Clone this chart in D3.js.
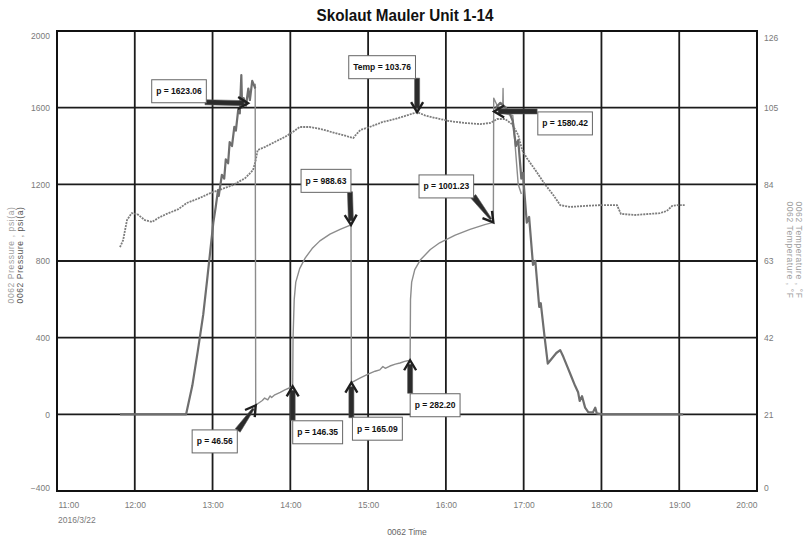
<!DOCTYPE html>
<html>
<head>
<meta charset="utf-8">
<script src="https://cdn.jsdelivr.net/npm/d3@7/dist/d3.min.js"></script>
<style>
  body { margin: 0; background: #fff; }
  svg { display: block; }
  text { font-family: "Liberation Sans", Arial, sans-serif; }
</style>
</head>
<body>
<svg id="chart" width="809" height="541"></svg>
<script>
// ---- data (time in decimal hours on 2016/3/22) ----
const hourTicks = [11, 12, 13, 14, 15, 16, 17, 18, 19, 20];
const pressureTicks = [-400, 0, 400, 800, 1200, 1600, 2000];
const tempTicks = [0, 21, 42, 63, 84, 105, 126];

// dark pressure trace
const pressureMain = [
    [11.81, 0], [12.66, 0], [12.74, 150], [12.81, 330], [12.88, 520], [12.93, 700],
    [12.97, 850], [13.01, 1000], [13.04, 1080], [13.07, 1170], [13.08, 1140], [13.12, 1250],
    [13.15, 1230], [13.17, 1330], [13.20, 1310], [13.22, 1420], [13.25, 1400], [13.28, 1500],
    [13.30, 1480], [13.33, 1590], [13.35, 1570], [13.37, 1770], [13.38, 1600], [13.40, 1650],
    [13.43, 1610], [13.46, 1700], [13.48, 1640], [13.51, 1740], [13.53, 1720], [13.55, 1700],
    null,
    [16.64, 1600], [16.70, 1625], [16.77, 1600], [16.82, 1570], [16.86, 1530], [16.90, 1400],
    [16.93, 1430], [16.97, 1230], [16.99, 1260], [17.04, 1000], [17.07, 1030], [17.12, 780],
    [17.15, 800], [17.20, 560], [17.22, 580], [17.27, 400], [17.31, 265], [17.36, 290],
    [17.42, 320], [17.47, 335], [17.51, 300], [17.56, 250], [17.61, 200], [17.66, 150],
    [17.70, 115], [17.72, 70], [17.75, 95], [17.79, 35], [17.83, 12], [17.89, 10],
    [17.92, 35], [17.94, 5], [18.01, 0], [19.05, 0]
];

// lighter pressure trace
const pressureAlt = [
    [13.548, 1725], [13.555, 46.56], [13.58, 55], [13.64, 72], [13.67, 85], [13.71, 76],
    [13.74, 96], [13.76, 88], [13.80, 102], [13.87, 115], [13.93, 128], [14.00, 140],
    [14.03, 146.35], [14.035, 400], [14.05, 600], [14.07, 690], [14.12, 760], [14.19, 815],
    [14.28, 865], [14.38, 905], [14.51, 940], [14.64, 965], [14.78, 988.63], [14.785, 165.09],
    [14.90, 190], [15.00, 210], [15.09, 225], [15.15, 232], [15.19, 250], [15.22, 240],
    [15.28, 252], [15.35, 262], [15.41, 268], [15.47, 276], [15.54, 282.2], [15.545, 600],
    [15.56, 690], [15.60, 755], [15.67, 805], [15.80, 860], [15.92, 895], [16.12, 935],
    [16.31, 965], [16.50, 990], [16.61, 1001.23], [16.615, 1650], [16.66, 1610],
    [16.73, 1590], [16.735, 1700], [16.74, 1570], [16.86, 1560], [16.93, 1200], [16.97, 1150]
];

const temperature = [
    [11.81, 66.8], [11.85, 68.7], [11.90, 74.2], [11.96, 76.1], [12.03, 75.9], [12.13, 74.2],
    [12.22, 73.7], [12.32, 75.0], [12.41, 75.9], [12.56, 77.2], [12.67, 78.9], [12.84, 80.3],
    [12.97, 81.6], [13.12, 82.7], [13.26, 83.8], [13.42, 85.7], [13.52, 87.9], [13.55, 90.1],
    [13.58, 93.4], [13.67, 94.2], [13.80, 95.6], [13.93, 97.0], [14.03, 98.3], [14.12, 99.7],
    [14.25, 99.7], [14.38, 99.2], [14.57, 98.1], [14.81, 96.7], [14.84, 97.5], [14.90, 98.9],
    [15.02, 99.7], [15.19, 101.1], [15.35, 101.9], [15.47, 102.7], [15.63, 103.76], [15.73, 102.9],
    [15.86, 102.2], [16.05, 101.3], [16.25, 100.8], [16.44, 100.5], [16.57, 100.8], [16.66, 101.9],
    [16.76, 101.9], [16.85, 100.5], [16.93, 97.5], [16.98, 93.4], [17.04, 91.2], [17.15, 87.9],
    [17.27, 84.1], [17.38, 81.1], [17.47, 78.3], [17.60, 77.8], [17.79, 78.1], [17.98, 78.3],
    [18.20, 78.3], [18.25, 75.9], [18.43, 75.6], [18.62, 75.9], [18.75, 76.1], [18.84, 76.7],
    [18.91, 78.1], [18.98, 78.3], [19.07, 78.3]
];

// callouts: label, time, value, which axis
const callouts = [
    { label: "p = 1623.06", t: 13.456, v: 1623.06, axis: "p" },
    { label: "Temp = 103.76", t: 15.63, v: 103.76, axis: "t" },
    { label: "p = 988.63", t: 14.78, v: 988.63, axis: "p" },
    { label: "p = 1001.23", t: 16.61, v: 1001.23, axis: "p" },
    { label: "p = 1580.42", t: 16.62, v: 1580.42, axis: "p" },
    { label: "p = 46.56", t: 13.555, v: 46.56, axis: "p" },
    { label: "p = 146.35", t: 14.03, v: 146.35, axis: "p" },
    { label: "p = 165.09", t: 14.785, v: 165.09, axis: "p" },
    { label: "p = 282.20", t: 15.54, v: 282.2, axis: "p" }
];

// ---- layout ----
const plot = { left: 57, right: 757, top: 31, bottom: 491 };
// box centre offset and arrow start offset from the tip, in px
const calloutLayout = [
    { box: [-69, -12], start: [-43, -1], w: [5, 5] },
    { box: [-35, -45], start: [0, -34], w: [5, 5] },
    { box: [-25, -44], start: [-1, -33], w: [5, 5] },
    { box: [-47, -36], start: [-20, -26], w: [6, 2] },
    { box: [71, 12], start: [43, 0], w: [5, 5] },
    { box: [-41, 36], start: [-18, 25], w: [6, 2] },
    { box: [25, 46], start: [0, 34], w: [5, 5] },
    { box: [26, 46], start: [0, 35], w: [5, 5] },
    { box: [25, 45], start: [0, 33], w: [5, 5] }
];

const svg = d3.select("#chart");

const x = d3.scaleLinear().domain([11, 20]).range([plot.left, plot.right]);
const yP = d3.scaleLinear().domain([-400, 2000]).range([plot.bottom, plot.top]);
const yT = d3.scaleLinear().domain([0, 126]).range([plot.bottom, plot.top]);

// grid
const grid = svg.append("g").attr("stroke", "#1c1c1c").attr("stroke-width", 1.8);
grid.selectAll("line.v")
    .data(hourTicks.slice(1, -1))
    .join("line")
    .attr("x1", d => x(d)).attr("x2", d => x(d))
    .attr("y1", plot.top).attr("y2", plot.bottom);
grid.selectAll("line.h")
    .data(pressureTicks.slice(1, -1))
    .join("line")
    .attr("x1", plot.left).attr("x2", plot.right)
    .attr("y1", d => yP(d)).attr("y2", d => yP(d));

svg.append("rect")
    .attr("x", plot.left).attr("y", plot.top)
    .attr("width", plot.right - plot.left).attr("height", plot.bottom - plot.top)
    .attr("fill", "none").attr("stroke", "#111").attr("stroke-width", 2);

// axes
const xAxis = svg.append("g")
    .attr("transform", `translate(0,${plot.bottom})`)
    .call(d3.axisBottom(x).tickValues(hourTicks).tickSize(0).tickPadding(11)
        .tickFormat(d => `${d}:00`));
const yAxisL = svg.append("g")
    .attr("transform", `translate(${plot.left},0)`)
    .call(d3.axisLeft(yP).tickValues(pressureTicks).tickSize(0).tickPadding(7)
        .tickFormat(d3.format("d")));
const yAxisR = svg.append("g")
    .attr("transform", `translate(${plot.right},0)`)
    .call(d3.axisRight(yT).tickValues(tempTicks).tickSize(0).tickPadding(7)
        .tickFormat(d3.format("d")));

[xAxis, yAxisL, yAxisR].forEach(a => {
    a.select(".domain").remove();
    a.selectAll("text").attr("fill", "#7a7a7a").attr("font-size", 8.5);
});
xAxis.selectAll("text").filter(d => d === 11).attr("text-anchor", "start").attr("dx", 1);
xAxis.selectAll("text").filter(d => d === 20).attr("text-anchor", "end");
yAxisL.selectAll("text").filter(d => d === 2000).attr("dy", "0.9em");
yAxisL.selectAll("text").filter(d => d === -400).attr("dy", "-0.1em");
yAxisR.selectAll("text").filter(d => d === 126).attr("dy", "1.1em");
yAxisR.selectAll("text").filter(d => d === 0).attr("dy", "-0.1em");

svg.append("text")
    .attr("x", plot.left + 1).attr("y", 523)
    .attr("font-size", 8.5).attr("fill", "#7a7a7a")
    .text("2016/3/22");

svg.append("text")
    .attr("x", (plot.left + plot.right) / 2).attr("y", 535)
    .attr("text-anchor", "middle").attr("font-size", 8.5).attr("fill", "#666")
    .text("0062 Time");

// axis titles
[["#a0a0a0", 14], ["#555", 23]].forEach(([c, xx]) => {
    svg.append("text")
        .attr("transform", `translate(${xx},255) rotate(-90)`)
        .attr("text-anchor", "middle").attr("font-size", 8.5).attr("fill", c)
        .attr("letter-spacing", 0.6)
        .text("0062 Pressure , psi(a)");
});
[["#a0a0a0", 787], ["#a0a0a0", 796]].forEach(([c, xx]) => {
    svg.append("text")
        .attr("transform", `translate(${xx},250) rotate(90)`)
        .attr("text-anchor", "middle").attr("font-size", 8.5).attr("fill", c)
        .attr("letter-spacing", 0.6)
        .text("0062 Temperature , °F");
});

// title
svg.append("text")
    .attr("x", 405).attr("y", 21)
    .attr("text-anchor", "middle")
    .attr("font-size", 17).attr("font-weight", "bold").attr("fill", "#111")
    .attr("textLength", 177).attr("lengthAdjust", "spacingAndGlyphs")
    .text("Skolaut Mauler Unit 1-14");

// series
const lineP = d3.line().defined(d => d !== null).x(d => x(d[0])).y(d => yP(d[1]));
const lineT = d3.line().x(d => x(d[0])).y(d => yT(d[1]));

svg.append("path")
    .datum(temperature)
    .attr("d", lineT)
    .attr("fill", "none").attr("stroke", "#7d7d7d").attr("stroke-width", 1.8)
    .attr("stroke-dasharray", "2,1");

svg.append("path")
    .datum(pressureAlt)
    .attr("d", lineP)
    .attr("fill", "none").attr("stroke", "#8c8c8c").attr("stroke-width", 1.4)
    .attr("stroke-linejoin", "round");

svg.append("path")
    .datum(pressureMain)
    .attr("d", lineP)
    .attr("fill", "none").attr("stroke", "#6e6e6e").attr("stroke-width", 2.2)
    .attr("stroke-linejoin", "round");

// callouts
const notes = svg.append("g");
callouts.forEach((c, i) => {
    const lay = calloutLayout[i];
    const tx = x(c.t), ty = c.axis === "p" ? yP(c.v) : yT(c.v);
    const sx = tx + lay.start[0], sy = ty + lay.start[1];
    const dx = tx - sx, dy = ty - sy, len = Math.hypot(dx, dy);
    const ux = dx / len, uy = dy / len, nx = -uy, ny = ux;
    const ex = tx - ux * 4, ey = ty - uy * 4;
    const [w0, w1] = lay.w;

    notes.append("polygon")
        .attr("points", [
            [sx + nx * w0 / 2, sy + ny * w0 / 2],
            [ex + nx * w1 / 2, ey + ny * w1 / 2],
            [ex - nx * w1 / 2, ey - ny * w1 / 2],
            [sx - nx * w0 / 2, sy - ny * w0 / 2]
        ].join(" "))
        .attr("fill", "#2b2b2b").attr("stroke", "#555").attr("stroke-width", 0.6);

    notes.append("polyline")
        .attr("points", [
            [tx - ux * 10 + nx * 6, ty - uy * 10 + ny * 6],
            [tx, ty],
            [tx - ux * 10 - nx * 6, ty - uy * 10 - ny * 6]
        ].join(" "))
        .attr("fill", "none").attr("stroke", "#1e1e1e").attr("stroke-width", 2.4)
        .attr("stroke-linejoin", "miter");

    const cx = tx + lay.box[0], cy = ty + lay.box[1];
    const box = notes.append("g");
    const rect = box.append("rect");
    const label = box.append("text")
        .attr("x", cx).attr("y", cy)
        .attr("dy", "0.35em")
        .attr("text-anchor", "middle")
        .attr("font-size", 8.5).attr("font-weight", "bold").attr("fill", "#111")
        .text(c.label);
    const tw = label.node().getComputedTextLength();
    const bw = tw + 9, bh = 23;
    rect.attr("x", cx - bw / 2).attr("y", cy - bh / 2)
        .attr("width", bw).attr("height", bh)
        .attr("fill", "#fff").attr("stroke", "#666").attr("stroke-width", 1);
});
</script>
</body>
</html>
